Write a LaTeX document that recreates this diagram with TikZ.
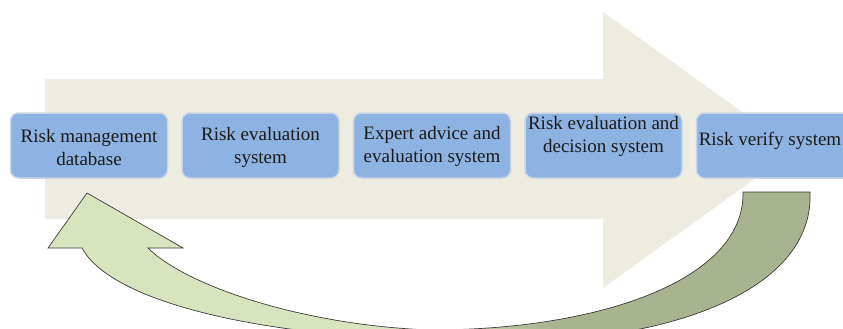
\documentclass[tikz,border=0pt]{standalone}
\usepackage{fontspec}
\setmainfont{Liberation Serif}
\usepackage{tikz}
\usetikzlibrary{positioning}
\definecolor{beige}{HTML}{EEECE1}
\definecolor{sysblue}{HTML}{8DB3E2}
\definecolor{boxedge}{HTML}{C9D5E3}
\definecolor{sysink}{HTML}{1A1A1A}
\definecolor{lightgreen}{HTML}{D7E4BD}
\definecolor{olivegreen}{HTML}{A8B48F}
\definecolor{outline}{HTML}{3C3C3C}
\pgfdeclarehorizontalshading{backgreen}{100bp}{color(0bp)=(lightgreen); color(49bp)=(lightgreen); color(58bp)=(olivegreen); color(100bp)=(olivegreen)}
\tikzstyle{sys}=[draw=boxedge, line width=1.5pt, fill=sysblue, rounded corners=8pt, minimum width=157pt, minimum height=65pt, node distance=13pt]
\tikzstyle{syslabel}=[inner sep=0pt, align=center, text=sysink, font=\fontsize{19pt}{23pt}\selectfont]
\tikzstyle{flow}=[fill=beige]
\tikzstyle{loopback}=[draw=outline, line width=0.7pt, shade, shading=backgreen]

\begin{document}
\begin{tikzpicture}[x=1pt,y=-1pt]
      \useasboundingbox (0,0) rectangle (843,329);
      % big process arrow
      \path [flow] (45,79) -- (603,79) -- (603,12) -- (795,150) -- (603,288) -- (603,219) -- (45,219) -- cycle;
      % systems
      \node [sys] (b1) at (89,145.5) {};
      \node [sys, right=of b1] (b2) {};
      \node [sys, right=of b2] (b3) {};
      \node [sys, right=of b3] (b4) {};
      \node [sys, right=of b4] (b5) {};
      \node [syslabel, below=17pt of b1.north] (t1) {Risk management\\database};
      \node [syslabel, below=15pt of b2.north] (t2) {Risk evaluation\\system};
      \node [syslabel, below=13.5pt of b3.north] (t3) {Expert advice and\\evaluation system};
      \node [syslabel, below=4pt of b4.north] (t4) {Risk evaluation and\\decision system};
      \node [syslabel, below=20pt of b5.north, xshift=-5pt] (t5) {Risk verify system};
      % feedback arrow
      \draw [loopback] (743,192) -- (810,192) .. controls (815,300) and (640,355) .. (430,340) .. controls (250,335) and (110,300) .. (82,248) -- (48,248) -- (87,193) -- (183,248) -- (148,248) .. controls (185,285) and (300,325) .. (430,330) .. controls (600,330) and (745,280) .. (743,192) -- cycle;
    \end{tikzpicture}
\end{document}
